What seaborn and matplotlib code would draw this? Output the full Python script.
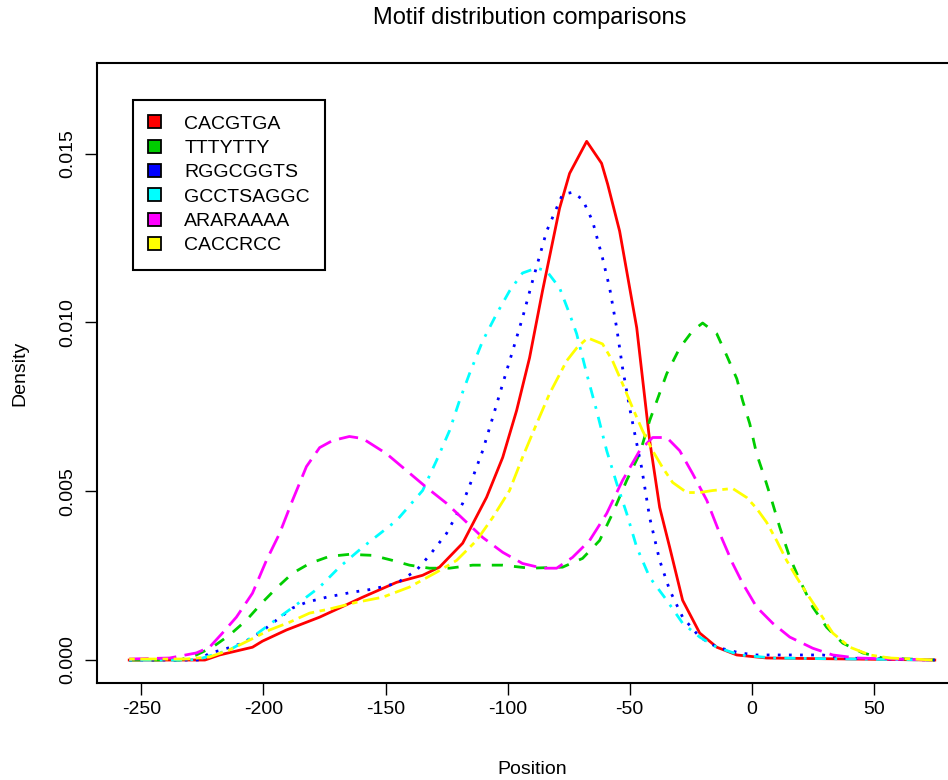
import matplotlib
matplotlib.use("Agg")
import matplotlib.pyplot as plt
from matplotlib.patches import Patch
import pandas as pd
import seaborn as sns

motifs = ["CACGTGA", "TTTYTTY", "RGGCGGTS", "GCCTSAGGC", "ARARAAAA", "CACCRCC"]
colors = ["#FF0000", "#00CD00", "#0000FF", "#00FFFF", "#FF00FF", "#FFFF00"]

red_x = [-255, -224, -218, -204.5, -200.4, -190.6, -177, -168.9, -159.4, -145.5, -134.8, -127.9,
         -118.4, -108.6, -102, -96.3, -91, -85.7, -78.7, -74.6, -67.6, -61.5, -59, -54.1, -47.1,
         -41.8, -37.7, -33.6, -28.3, -21.3, -14.3, -6.1, 6.1, 75]
red_y = [0, 0, 0.00015, 0.00038, 0.00056, 0.00089, 0.00127, 0.00154, 0.00186, 0.00230, 0.00251,
         0.00275, 0.00346, 0.00482, 0.00600, 0.00739, 0.00895, 0.01093, 0.01338, 0.01441, 0.01536,
         0.01471, 0.01409, 0.01270, 0.00984, 0.00650, 0.00452, 0.00334, 0.00177, 0.00080, 0.00038,
         0.00015, 0.00006, 0]

green_x = [-255, -234.4, -227.5, -220.9, -213.9, -207, -200.4, -194.7, -188.1, -181.1, -173, -164.8,
           -155.3, -147.1, -140.2, -132, -123.8, -114.3, -102, -91, -77.5, -69.3, -62.3, -57, -51.2,
           -45.9, -41.8, -34.8, -29.5, -24.2, -20.1, -14.3, -10.2, -6.1, -3.7, -0.8, 2, 5.3, 8.2,
           11.5, 15.6, 19.7, 25, 30.7, 37.3, 45.5, 53.7, 75]
green_y = [0, 0, 0.00015, 0.00038, 0.00074, 0.00118, 0.00171, 0.00213, 0.00257, 0.00286, 0.00307,
           0.00313, 0.00310, 0.00295, 0.00281, 0.00272, 0.00272, 0.00281, 0.00281, 0.00272, 0.00275,
           0.00301, 0.00354, 0.00434, 0.00532, 0.00611, 0.00709, 0.00848, 0.00924, 0.00975, 0.00998,
           0.00966, 0.00901, 0.00833, 0.00768, 0.00700, 0.00611, 0.00540, 0.00473, 0.00393, 0.00304,
           0.00236, 0.00157, 0.00097, 0.00050, 0.00021, 0.00006, 0]

blue_x = [-255, -226.2, -222.1, -216.8, -208.6, -201.6, -194.7, -188.1, -182.4, -174.2, -163.5,
          -155.3, -145.5, -137.3, -132, -125, -118.4, -114.3, -110.2, -106.1, -102, -97.9, -93.9,
          -89.8, -84, -77.5, -73.4, -69.3, -65.2, -61.1, -58.2, -55.3, -52.9, -50, -47.9, -45.1,
          -41.8, -37.7, -33.6, -28.3, -21.3, -14.3, -4.9, 2, 29.1, 37.3, 75]
blue_y = [0, 0, 0.00021, 0.00030, 0.00050, 0.00080, 0.00118, 0.00154, 0.00171, 0.00186, 0.00201,
          0.00210, 0.00227, 0.00266, 0.00310, 0.00375, 0.00464, 0.00540, 0.00620, 0.00718, 0.00818,
          0.00916, 0.01013, 0.01122, 0.01270, 0.01379, 0.01385, 0.01364, 0.01300, 0.01190, 0.01102,
          0.00983, 0.00865, 0.00747, 0.00670, 0.00570, 0.00422, 0.00295, 0.00207, 0.00127, 0.00068,
          0.00038, 0.00021, 0.00015, 0.00015, 0.00006, 0]

cyan_x = [-255, -230.3, -225, -213.9, -204.5, -196.3, -185.2, -177, -168.9, -159.4, -145.5, -134.8,
          -129.1, -123.8, -119.7, -115.6, -110.2, -104.5, -99.2, -93.9, -88.1, -84, -78.7, -74.6,
          -71.7, -67.6, -63.5, -59.4, -55.3, -51.2, -47.1, -41.8, -34.8, -28.3, -21.3, -14.3, -4.9,
          8.6, 75]
cyan_y = [0, 0, 0.00006, 0.00030, 0.00068, 0.00112, 0.00171, 0.00216, 0.00275, 0.00334, 0.00413,
          0.00502, 0.00591, 0.00679, 0.00768, 0.00848, 0.00945, 0.01025, 0.01093, 0.01146, 0.01161,
          0.01152, 0.01102, 0.01025, 0.00966, 0.00848, 0.00738, 0.00620, 0.00523, 0.00434, 0.00334,
          0.00245, 0.00177, 0.00109, 0.00068, 0.00038, 0.00015, 0.00006, 0]

magenta_x = [-255, -238.5, -227.5, -222.1, -216.8, -211.1, -204.5, -198.8, -193.4, -188.1, -182.4,
             -177, -171.7, -164.8, -159.4, -149.6, -141.4, -133.2, -125, -116.8, -110.2, -102,
             -93.9, -85.7, -79.9, -73.4, -66.4, -59.4, -52.9, -45.9, -40.6, -34.8, -29.5, -24.2,
             -18.4, -13.1, -7.8, -3.7, 2, 8.6, 15.6, 25, 33.2, 43, 75]
magenta_y = [0.00003, 0.00006, 0.00021, 0.00038, 0.00080, 0.00127, 0.00198, 0.00295, 0.00375,
             0.00473, 0.00573, 0.00629, 0.00650, 0.00662, 0.00656, 0.00611, 0.00561, 0.00511,
             0.00464, 0.00408, 0.00363, 0.00319, 0.00286, 0.00272, 0.00272, 0.00304, 0.00354,
             0.00434, 0.00532, 0.00620, 0.00659, 0.00659, 0.00620, 0.00552, 0.00473, 0.00375,
             0.00286, 0.00227, 0.00157, 0.00109, 0.00068, 0.00035, 0.00015, 0.00006, 0]

yellow_x = [-255, -231.6, -222.1, -213.9, -205.7, -197.5, -189.3, -181.1, -173, -161.9, -151.2,
            -140.2, -129.1, -120.9, -112.7, -106.1, -99.2, -93.9, -88.1, -82.8, -75.8, -71.7, -67.2,
            -61.1, -57, -52.9, -48.8, -44.7, -40.6, -36.5, -32.4, -26.6, -21.3, -16, -7.8, -2, 2,
            6.1, 10.2, 14.3, 18.4, 22.5, 27.9, 33.2, 40.2, 48.4, 56.6, 75]
yellow_y = [0.00003, 0.00003, 0.00009, 0.00030, 0.00059, 0.00089, 0.00112, 0.00139, 0.00151,
            0.00171, 0.00186, 0.00216, 0.00260, 0.00295, 0.00354, 0.00422, 0.00502, 0.00600,
            0.00700, 0.00789, 0.00886, 0.00924, 0.00954, 0.00936, 0.00886, 0.00818, 0.00747,
            0.00679, 0.00620, 0.00570, 0.00526, 0.00496, 0.00496, 0.00502, 0.00508, 0.00481,
            0.00449, 0.00408, 0.00354, 0.00295, 0.00245, 0.00198, 0.00139, 0.00080, 0.00038,
            0.00015, 0.00006, 0]

x_ticks = [-250, -200, -150, -100, -50, 0, 50]
y_ticks = [0.0, 0.005, 0.010, 0.015]
y_tick_labels = ["0.000", "0.005", "0.010", "0.015"]

xs_all = [red_x, green_x, blue_x, cyan_x, magenta_x, yellow_x]
ys_all = [red_y, green_y, blue_y, cyan_y, magenta_y, yellow_y]
frames = []
for name, xs, ys in zip(motifs, xs_all, ys_all):
    frames.append(pd.DataFrame({"Position": xs, "Density": ys, "Motif": name}))
df = pd.concat(frames, ignore_index=True)

plt.rcParams['font.family'] = ['Liberation Sans', 'DejaVu Sans']

fig = plt.figure(figsize=(9.48, 7.8), dpi=100)
fig.patch.set_facecolor("white")
ax = fig.add_axes([97 / 948, 97 / 780, 870 / 948, 620 / 780])

dash_map = {"CACGTGA": "", "TTTYTTY": (4, 4), "RGGCGGTS": (1, 3),
            "GCCTSAGGC": (1, 3, 4, 3), "ARARAAAA": (7, 3), "CACCRCC": (2, 2, 6, 2)}
sns.lineplot(data=df, x="Position", y="Density", hue="Motif", style="Motif",
             hue_order=motifs, style_order=motifs, palette=dict(zip(motifs, colors)),
             dashes=dash_map, estimator=None, sort=False, linewidth=2.0,
             legend=False, ax=ax)

ax.set_xlim(-268.2, 88.2)
ax.set_ylim(-0.00068, 0.01768)
ax.set_xticks(x_ticks)
ax.set_xticklabels([str(t) for t in x_ticks])
ax.set_yticks(y_ticks)
ax.set_yticklabels(y_tick_labels, rotation=90, va="center")
ax.tick_params(length=8.6, width=1, labelsize=14, direction="out", color="black")
ax.tick_params(axis="x", pad=4)
ax.tick_params(axis="y", pad=6)
for sp in ax.spines.values():
    sp.set_linewidth(1.5)
    sp.set_color("black")

ax.set_xlabel("Position", fontsize=14)
ax.xaxis.set_label_coords(0.5, (683 - 770) / 620)
ax.xaxis.label.set_va("center")
ax.set_ylabel("Density", fontsize=14)
ax.yaxis.set_label_coords((20 - 97) / 870, 0.5)
ax.yaxis.label.set_va("center")

fig.text(530 / 948, 1 - 18 / 780, "Motif distribution comparisons", ha="center", va="center",
         fontsize=17)

handles = [Patch(facecolor=c, edgecolor="black", linewidth=1.3, label=m)
           for m, c in zip(motifs, colors)]
leg = ax.legend(handles=handles, loc="upper left", bbox_to_anchor=(133 / 948, 1 - 100 / 780),
                bbox_transform=fig.transFigure, borderaxespad=0, fontsize=14, frameon=True,
                fancybox=False, edgecolor="black", framealpha=1, borderpad=0.78,
                labelspacing=0.36, handlelength=0.66, handleheight=0.66, handletextpad=1.2)
leg.get_frame().set_linewidth(1.5)

fig.savefig("out.png", dpi=100)
